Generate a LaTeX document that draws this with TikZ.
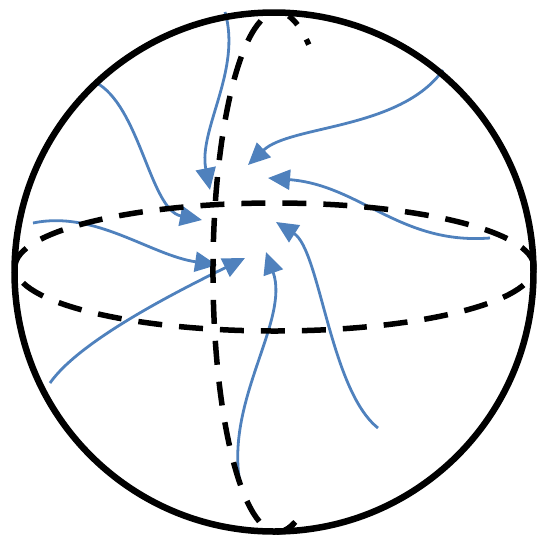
\documentclass[tikz,border=0pt]{standalone}
\usetikzlibrary{arrows.meta}
\definecolor{flow}{RGB}{79,129,189}
\begin{document}
\begin{tikzpicture}[x=1pt,y=-1pt,
  flowline/.style={draw=flow, line width=2.8pt, -{Triangle[length=22pt,width=20pt]}},
  guide/.style={line width=5.5pt, dash pattern=on 24pt off 17pt},
  backbit/.style={line width=5.5pt},
  rim/.style={line width=6.5pt}]
\useasboundingbox (0,0) rectangle (540,550);
% flow arrows
\coordinate (a1s) at (225,12);  \coordinate (a1e) at (210,190);
\coordinate (a2s) at (95,82);   \coordinate (a2e) at (202,220);
\coordinate (a3s) at (33,223);  \coordinate (a3e) at (217,265);
\coordinate (a4s) at (50,383);  \coordinate (a4e) at (245,258);
\coordinate (a5s) at (240,483); \coordinate (a5e) at (266,252);
\coordinate (a6s) at (378,428); \coordinate (a6e) at (276,222);
\coordinate (a7s) at (490,238); \coordinate (a7e) at (268,178);
\coordinate (a8s) at (443,70);  \coordinate (a8e) at (248,165);
\draw[flowline] (a1s) .. controls (242,70) and (198,130) .. (a1e);
\draw[flowline] (a2s) .. controls (140,105) and (150,210) .. (a2e);
\draw[flowline] (a3s) .. controls (95,210) and (150,255) .. (a3e);
\draw[flowline] (a4s) .. controls (80,340) and (180,290) .. (a4e);
\draw[flowline] (a5s) .. controls (225,400) and (290,320) .. (a5e);
\draw[flowline] (a6s) .. controls (330,390) and (320,250) .. (a6e);
\draw[flowline] (a7s) .. controls (400,245) and (360,185) .. (a7e);
\draw[flowline] (a8s) .. controls (400,130) and (290,125) .. (a8e);
% equator
\coordinate (eq) at (274.5,267);
\draw[guide] (eq) ellipse [x radius=259.5pt, y radius=64pt];
% meridian (front half)
\coordinate (mer) at (277.5,272);
\draw[guide] (mer) ++(105:64.5pt and 260pt) arc[start angle=105,end angle=285,x radius=64.5pt,y radius=260pt];
% meridian (back bits)
\draw[backbit] (mer) ++(80:64.5pt and 260pt) arc[start angle=80,end angle=72,x radius=64.5pt,y radius=260pt];
\draw[backbit] (mer) ++(63.5:64.5pt and 260pt) arc[start angle=63.5,end angle=61,x radius=64.5pt,y radius=260pt];
\draw[backbit] (mer) ++(-84:64.5pt and 260pt) arc[start angle=-84,end angle=-74,x radius=64.5pt,y radius=260pt];
% sphere outline
\coordinate (c) at (274,272);
\draw[rim] (c) circle[radius=259.5pt];
\end{tikzpicture}
\end{document}
